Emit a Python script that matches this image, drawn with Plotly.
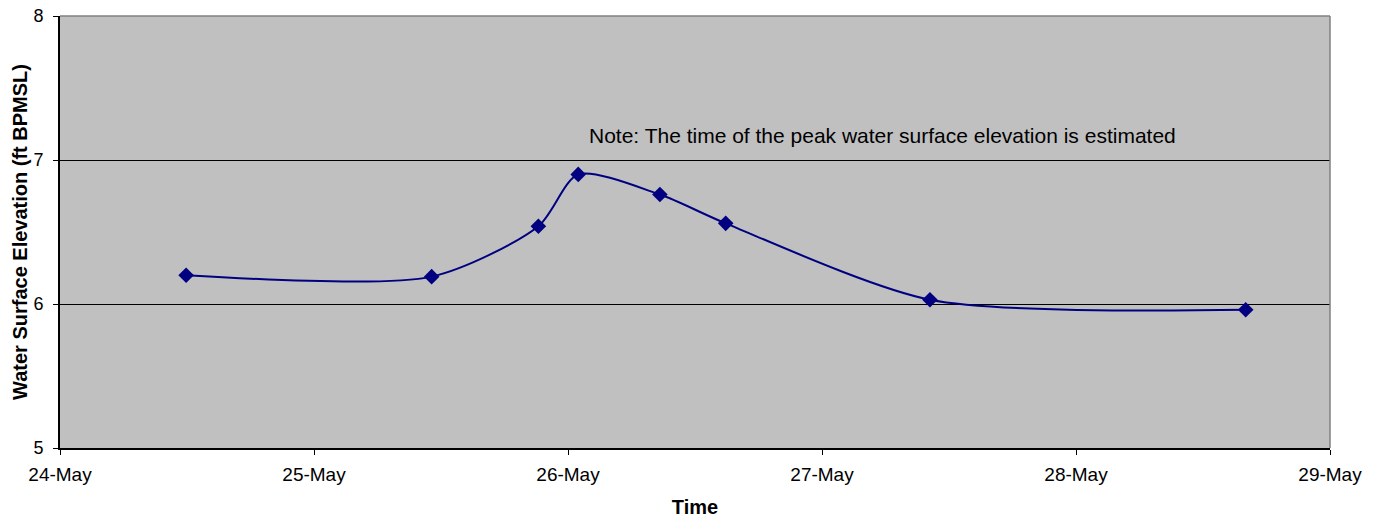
import plotly.graph_objects as go

# Data
times = [
    "2005-05-24 11:55",
    "2005-05-25 11:07",
    "2005-05-25 21:12",
    "2005-05-26 00:58",
    "2005-05-26 08:41",
    "2005-05-26 14:54",
    "2005-05-27 10:12",
    "2005-05-28 16:02",
]
elevation = [6.20, 6.19, 6.54, 6.90, 6.76, 6.56, 6.03, 5.96]

x_range = ["2005-05-24", "2005-05-29"]
y_range = [5, 8]
y_ticks = [5, 6, 7, 8]

note_text = "Note: The time of the peak water surface elevation is estimated"
x_title = "Time"
y_title = "Water Surface Elevation (ft BPMSL)"

NAVY = "#000080"
FONT = "Liberation Sans, Arial, sans-serif"

fig = go.Figure()
fig.add_trace(go.Scatter(
    x=times, y=elevation,
    mode="lines+markers",
    line=dict(color=NAVY, width=2, shape="spline", smoothing=0.75),
    marker=dict(symbol="diamond", size=12, color=NAVY),
    showlegend=False,
))

fig.add_annotation(
    text=note_text, xref="paper", yref="paper", x=0.6476, y=0.724,
    showarrow=False, font=dict(family=FONT, size=21, color="#000000"),
    xanchor="center", yanchor="middle",
)

# gray top and right border of the plot area
fig.add_shape(type="line", xref="paper", yref="paper", x0=0, x1=1, y0=1, y1=1,
              line=dict(color="#808080", width=1.5), layer="above")
fig.add_shape(type="line", xref="paper", yref="paper", x0=1, x1=1, y0=0, y1=1,
              line=dict(color="#808080", width=1.5), layer="above")

fig.update_layout(
    width=1375, height=519,
    margin=dict(l=60, r=45, t=16, b=71, autoexpand=False),
    paper_bgcolor="white",
    plot_bgcolor="#C0C0C0",
    font=dict(family=FONT, size=18, color="#000000"),
    xaxis=dict(
        type="date", range=x_range, dtick=86400000, tick0="2005-05-24",
        tickformat="%-d-%b", ticks="outside", ticklen=5, tickcolor="#000000",
        showline=True, linecolor="#000000", linewidth=2,
        showgrid=False, zeroline=False, automargin=False,
        tickfont=dict(family=FONT, size=19), ticklabelstandoff=3,
        title=dict(text="<b>" + x_title + "</b>", font=dict(family=FONT, size=20), standoff=16),
    ),
    yaxis=dict(
        range=y_range, tickvals=y_ticks, ticks="outside", ticklen=5, tickcolor="#000000",
        showline=True, linecolor="#000000", linewidth=2,
        showgrid=True, gridcolor="#000000", gridwidth=1, zeroline=False, automargin=False,
        tickfont=dict(family=FONT, size=18), ticklabelstandoff=6,
        title=dict(text="<b>" + y_title + "</b>", font=dict(family=FONT, size=20), standoff=0),
    ),
)

fig.write_html("out.html")
